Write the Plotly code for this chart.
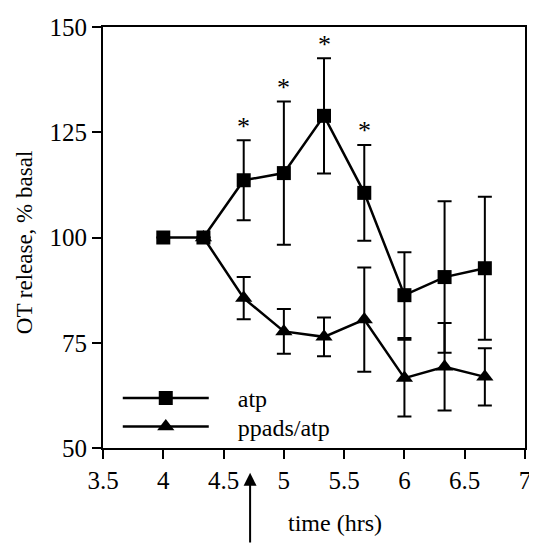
import plotly.graph_objects as go

time_hrs = [4, 4.333, 4.667, 5, 5.333, 5.667, 6, 6.333, 6.667]
atp = [100, 100, 113.6, 115.3, 128.9, 110.6, 86.3, 90.6, 92.7]
atp_err = [0, 0, 9.5, 17.0, 13.7, 11.4, 10.2, 18.0, 17.0]
ppads_time = [4.333, 4.667, 5, 5.333, 5.667, 6, 6.333, 6.667]
ppads = [100, 85.6, 77.7, 76.4, 80.5, 66.6, 69.3, 66.9]
ppads_err = [0, 5.0, 5.3, 4.6, 12.4, 9.1, 10.4, 6.8]
star_x = [4.667, 5, 5.333, 5.667]

FONT = "Liberation Serif"
PAD = "\u2003"

fig = go.Figure()
fig.add_trace(go.Scatter(
    x=time_hrs, y=atp, name=PAD + "atp", mode="lines+markers", legend="legend",
    line=dict(color="black", width=2.5),
    marker=dict(symbol="square", size=14, color="black"),
    error_y=dict(type="data", array=atp_err, color="black", thickness=2, width=7),
))
fig.add_trace(go.Scatter(
    x=ppads_time, y=ppads, name=PAD + "ppads/atp", mode="lines+markers", legend="legend2",
    line=dict(color="black", width=2.5),
    marker=dict(symbol="triangle-up", size=15, color="black"),
    error_y=dict(type="data", array=ppads_err, color="black", thickness=2, width=7),
))

for sx in star_x:
    i = time_hrs.index(sx)
    fig.add_annotation(x=sx, y=atp[i] + atp_err[i], yshift=14, text="*",
                       showarrow=False, font=dict(family=FONT, size=26, color="black"))

fig.add_annotation(x=4.72, xref="x", y=-0.059, yref="paper", text="",
                   showarrow=True, arrowhead=2, arrowsize=1.3, arrowwidth=2,
                   arrowcolor="black", ax=0, ay=75)

fig.add_annotation(x=0.55, xref="paper", y=-0.178, yref="paper", yanchor="middle",
                   text="time (hrs)", showarrow=False,
                   font=dict(family=FONT, size=24, color="black"))

fig.add_annotation(x=-0.187, xref="paper", y=0.489, yref="paper",
                   xanchor="center", yanchor="middle", textangle=-90,
                   text="OT release, % basal", showarrow=False,
                   font=dict(family=FONT, size=23, color="black"))

leg = dict(xanchor="left", yanchor="middle", bgcolor="rgba(0,0,0,0)",
           font=dict(family=FONT, size=24), itemwidth=86, tracegroupgap=0)

fig.update_layout(
    width=529, height=536,
    margin=dict(l=95, r=6, t=15, b=96),
    paper_bgcolor="white", plot_bgcolor="white",
    font=dict(family=FONT, size=24, color="black"),
    showlegend=True,
    legend=dict(x=0.035, y=0.1176, **leg),
    legend2=dict(x=0.035, y=0.050, **leg),
    xaxis=dict(range=[3.5, 7], tickvals=[3.5, 4, 4.5, 5, 5.5, 6, 6.5, 7],
               ticktext=["3.5", "4", "4.5", "5", "5.5", "6", "6.5", "7"],
               showgrid=False, zeroline=False, showline=True, linecolor="black",
               linewidth=2, mirror=True, ticks="outside", ticklen=9,
               tickwidth=2, tickcolor="black", tickfont=dict(family=FONT, size=25)),
    yaxis=dict(range=[50, 150], tickvals=[50, 75, 100, 125, 150],
               showgrid=False, zeroline=False, showline=True, linecolor="black",
               linewidth=2, mirror=True, ticks="outside", ticklen=9,
               tickwidth=2, tickcolor="black", tickfont=dict(family=FONT, size=25)),
)

fig.write_html("out.html")
